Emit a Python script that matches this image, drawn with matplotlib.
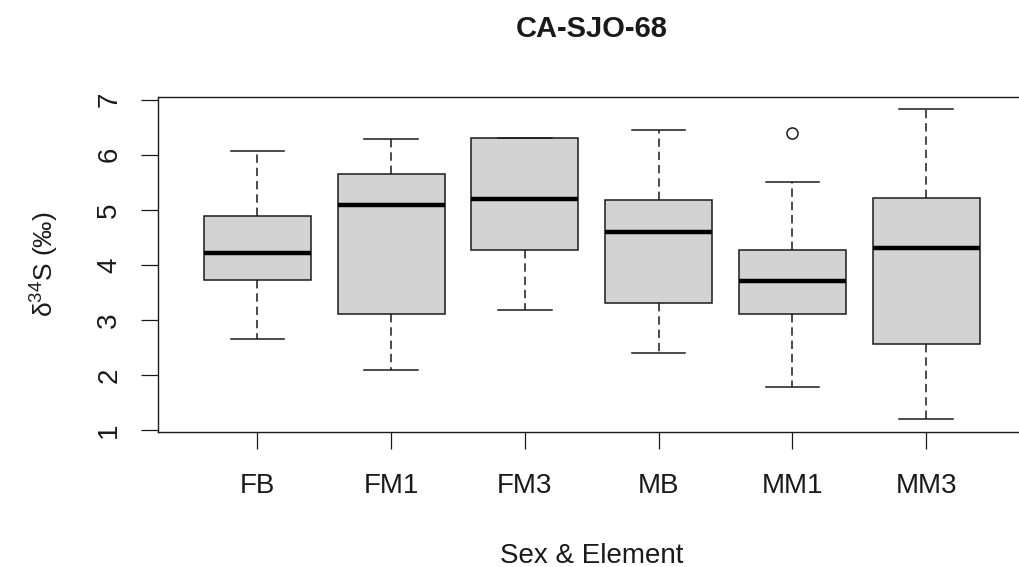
import matplotlib
matplotlib.use("Agg")
import matplotlib.pyplot as plt
import numpy as np

# Summary statistics per group (whisker ends, quartiles, median, outliers)
categories = ["FB", "FM1", "FM3", "MB", "MM1", "MM3"]
whisker_low = [2.66, 2.10, 3.18, 2.40, 1.78, 1.20]
q1 = [3.73, 3.11, 4.28, 3.31, 3.11, 2.56]
median = [4.21, 5.08, 5.19, 4.60, 3.70, 4.31]
q3 = [4.88, 5.66, 6.31, 5.18, 4.27, 5.22]
whisker_high = [6.06, 6.28, 6.31, 6.45, 5.50, 6.83]
outliers = [[], [], [], [], [6.39], []]

title = "CA-SJO-68"
xlabel = "Sex & Element"
ylabel = "\u03b4$^{34}$S (\u2030)"
yticks = [1, 2, 3, 4, 5, 6, 7]

plt.rcParams["font.family"] = ["Liberation Sans", "DejaVu Sans"]
plt.rcParams["mathtext.fontset"] = "custom"
plt.rcParams["mathtext.rm"] = "Liberation Sans"
plt.rcParams["mathtext.it"] = "Liberation Sans:italic"
plt.rcParams["mathtext.bf"] = "Liberation Sans:bold"

ink = "#1a1a1a"

stats = []
for i, name in enumerate(categories):
    stats.append({
        "label": name,
        "whislo": whisker_low[i],
        "q1": q1[i],
        "med": median[i],
        "q3": q3[i],
        "whishi": whisker_high[i],
        "fliers": outliers[i],
    })

fig = plt.figure(figsize=(10.2, 5.67), dpi=100)
ax = fig.add_axes([0.1552, 0.2388, 0.8497, 0.5907])

n = len(categories)
positions = np.arange(1, n + 1)

ax.bxp(
    stats,
    positions=positions,
    widths=0.8,
    capwidths=0.4,
    patch_artist=True,
    showfliers=True,
    boxprops=dict(facecolor="#d3d3d3", edgecolor=ink, linewidth=1.1),
    medianprops=dict(color="black", linewidth=3.2, solid_capstyle="butt"),
    whiskerprops=dict(color=ink, linewidth=1.1, linestyle=(0, (5.5, 3.2))),
    capprops=dict(color=ink, linewidth=1.1),
    flierprops=dict(marker="o", markerfacecolor="none", markeredgecolor=ink,
                    markersize=8, markeredgewidth=1.1),
)

# R-style axis ranges: 4% padding around data / group slots
lo = min(whisker_low + [v for o in outliers for v in o])
hi = max(whisker_high + [v for o in outliers for v in o])
span = hi - lo
ax.set_ylim(lo - 0.04 * span, hi + 0.04 * span)
ax.set_xlim(0.5 - 0.04 * n, n + 0.5 + 0.04 * n)

ax.set_xticks(positions)
ax.set_xticklabels(categories)
ax.set_yticks(yticks)
ax.set_yticklabels([str(v) for v in yticks])

for s in ax.spines.values():
    s.set_color(ink)
    s.set_linewidth(1.0)

ax.tick_params(axis="both", direction="out", length=12, width=0.9,
               colors=ink, labelsize=20, labelcolor=ink)
ax.tick_params(axis="x", pad=18)
ax.tick_params(axis="y", pad=14, labelrotation=90)
for lab in ax.get_yticklabels():
    lab.set_va("center")

ax.set_xlabel(xlabel, fontsize=20, color=ink)
ax.xaxis.label.set_va("baseline")
ax.xaxis.set_label_coords(0.5, -0.392)

ax.set_ylabel(ylabel, fontsize=19, color=ink)
ax.yaxis.label.set_va("center")
ax.yaxis.set_label_coords(-0.131, 0.5)

fig.text(0.580, 0.9347, title, ha="center", va="baseline",
         fontsize=21, fontweight="bold", color=ink)

fig.savefig("out.png", dpi=100)
